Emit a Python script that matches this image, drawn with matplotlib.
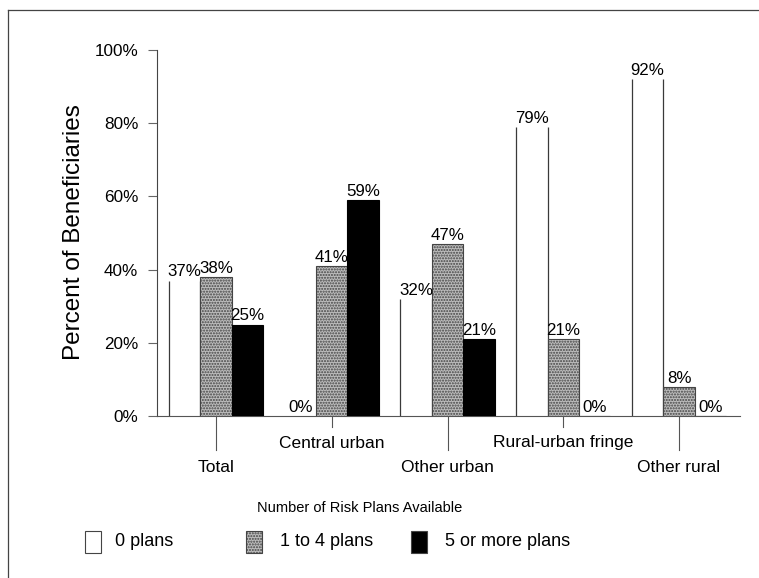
import matplotlib
matplotlib.use("Agg")
import matplotlib.pyplot as plt
import matplotlib.transforms as mtransforms
from matplotlib.patches import Rectangle
from matplotlib.lines import Line2D
import numpy as np

plt.rcParams['font.family'] = ['Liberation Sans', 'DejaVu Sans']
plt.rcParams['hatch.color'] = '#8a8a8a'

# ---- data ----
categories = ["Total", "Central urban", "Other urban", "Rural-urban fringe", "Other rural"]
series_names = ["0 plans", "1 to 4 plans", "5 or more plans"]
zero_plans = [37, 0, 32, 79, 92]
one_to_four = [38, 41, 47, 21, 8]
five_plus = [25, 59, 21, 0, 0]
yticks = [0, 20, 40, 60, 80, 100]
ytick_labels = ["0%", "20%", "40%", "60%", "80%", "100%"]
ylabel = "Percent of Beneficiaries"
legend_title = "Number of Risk Plans Available"

W, H = 759, 578
fig = plt.figure(figsize=(W / 100, H / 100), dpi=100)
ax = fig.add_axes([157 / W, 1 - 416 / H, 583 / W, 366 / H])

x = np.arange(len(categories))
w = 0.271
edge = '#3a3a3a'
gray = '#bcbcbc'

# white bars: fill only, then their side edges
b0 = ax.bar(x - w, zero_plans, w, color='white', edgecolor='none', zorder=2)
for p in b0.patches:
    x0, h = p.get_x(), p.get_height()
    if h > 0:
        ax.vlines([x0, x0 + p.get_width()], 0, h, color=edge, lw=0.9, zorder=2)
b1 = ax.bar(x, one_to_four, w, color=gray, edgecolor='#444444', lw=0.8,
            hatch='......', zorder=3)
b2 = ax.bar(x + w, five_plus, w, color='black', edgecolor='black', lw=0.8, zorder=3)

# value labels
for bars, vals in ((b0, zero_plans), (b1, one_to_four), (b2, five_plus)):
    for p, v in zip(bars.patches, vals):
        ax.text(p.get_x() + p.get_width() / 2, v + 0.3, f"{v}%", ha='center',
                va='bottom', fontsize=12.2, zorder=5)

ax.set_xlim(-0.51, 4.527)
ax.set_ylim(0, 100)
ax.set_yticks(yticks)
ax.set_yticklabels(ytick_labels, fontsize=12.3)
ax.tick_params(axis='y', direction='out', length=6.5, width=0.8, color='#666666', pad=7)
ax.set_xticks([])
for s in ('top', 'right'):
    ax.spines[s].set_visible(False)
ax.spines['left'].set_color('#444444')
ax.spines['left'].set_linewidth(0.8)
ax.spines['bottom'].set_color('#555555')
ax.spines['bottom'].set_linewidth(0.8)

# staggered category ticks and labels
trans = mtransforms.blended_transform_factory(ax.transData, ax.transAxes)
for i, c in enumerate(categories):
    lower = (i % 2 == 0)
    tick_end = -34 / 366 if lower else -11 / 366
    lab_y = -51 / 366 if lower else -27 / 366
    ax.plot([i, i], [0, tick_end], transform=trans, color='#555555', lw=0.8,
            clip_on=False)
    ax.text(i, lab_y, c, transform=trans, ha='center', va='center', fontsize=12.5)

fig.text(74 / W, 1 - 232 / H, ylabel, rotation=90, ha='center', va='center', fontsize=17.5)

# legend (manual)
fig.text(360 / W, 1 - 508 / H, legend_title, ha='center', va='center', fontsize=10.5)
colors = ['white', gray, 'black']
box_x = [85, 246, 411]
txt_x = [115, 280, 445]
for name, col, bx, tx in zip(series_names, colors, box_x, txt_x):
    r = Rectangle((bx / W, 1 - 553 / H), 16 / W, 22 / H, transform=fig.transFigure,
                  facecolor=col, edgecolor='#444444', lw=0.8,
                  hatch='......' if col == gray else None)
    fig.add_artist(r)
    fig.text(tx / W, 1 - 542 / H, name, ha='left', va='center', fontsize=13)

# figure border (left and top)
fig.add_artist(Line2D([8 / W, 8 / W], [0, 1 - 10 / H], transform=fig.transFigure,
                      color='#444444', lw=0.9))
fig.add_artist(Line2D([8 / W, 1], [1 - 10 / H, 1 - 10 / H], transform=fig.transFigure,
                      color='#444444', lw=0.9))

fig.savefig("out.png", dpi=100)
